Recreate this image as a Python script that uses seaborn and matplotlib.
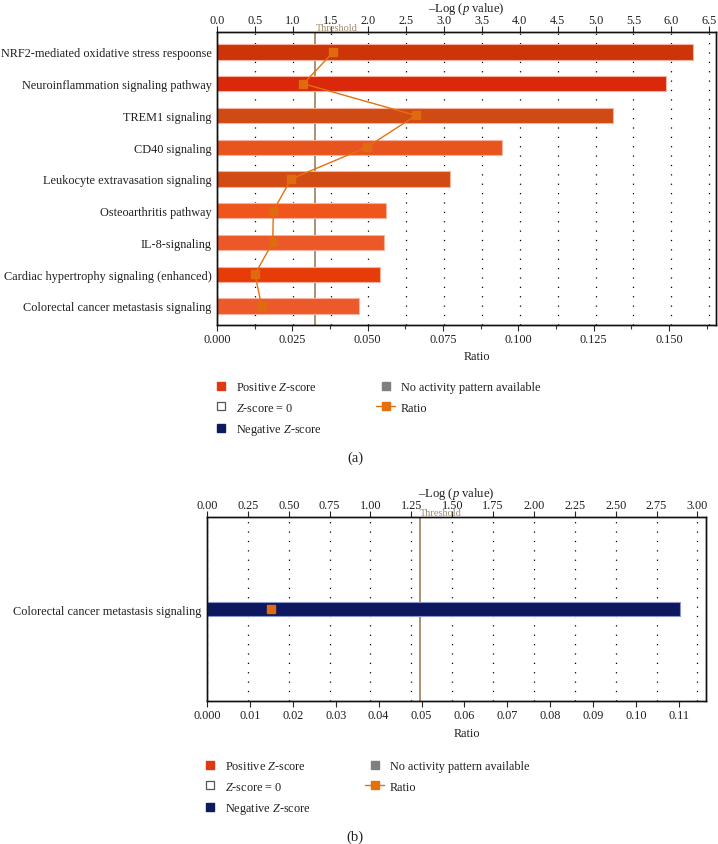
import numpy as np
import matplotlib
matplotlib.use("Agg")
import matplotlib.pyplot as plt
import matplotlib.transforms as mtransforms
import seaborn as sns
from matplotlib.lines import Line2D
from matplotlib.ticker import MultipleLocator, FixedLocator, FormatStrFormatter

sns.set_style("white")
plt.rcParams['font.family'] = ['Liberation Serif', 'DejaVu Serif']
plt.rcParams['mathtext.fontset'] = 'custom'
plt.rcParams['mathtext.rm'] = 'Liberation Serif'
plt.rcParams['mathtext.it'] = 'Liberation Serif:italic'
plt.rcParams['text.color'] = '#231f20'

# Panel (a) data
pathways_a = ['NRF2-mediated oxidative stress respoonse',
              'Neuroinflammation signaling pathway',
              'TREM1 signaling',
              'CD40 signaling',
              'Leukocyte extravasation signaling',
              'Osteoarthritis pathway',
              'IL-8-signaling',
              'Cardiac hypertrophy signaling (enhanced)',
              'Colorectal cancer metastasis signaling']
logp_a = [6.29, 5.93, 5.23, 3.77, 3.08, 2.23, 2.21, 2.15, 1.88]
ratio_a = [0.0386, 0.0287, 0.0660, 0.0497, 0.0246, 0.0187, 0.0185, 0.0126, 0.0148]
colors_a = ['#cc3508', '#d9280a', '#d04a14', '#e8541e', '#d24a14',
            '#f0561c', '#ec5828', '#e83c08', '#ec5a2c']

# Panel (b) data
pathways_b = ['Colorectal cancer metastasis signaling']
logp_b = [2.89]
ratio_b = [0.0150]
colors_b = ['#0c175e']

threshold = 1.3

ratio_ticks_a = [0.0, 0.025, 0.05, 0.075, 0.1, 0.125, 0.15]
ratio_labels_a = ['0.000', '0.025', '0.050', '0.075', '0.100', '0.125', '0.150']
ratio_ticks_b = [0.0, 0.01, 0.02, 0.03, 0.04, 0.05, 0.06, 0.07, 0.08, 0.09, 0.10, 0.11]
ratio_labels_b = ['0.000', '0.01', '0.02', '0.03', '0.04', '0.05', '0.06',
                  '0.07', '0.08', '0.09', '0.10', '0.11']

TXT = '#231f20'
FS = 8.8
RATIO_C = '#e4700e'


def draw_panel(ax, names, logp, ratio, colors, edge, log_max, log_step, log_fmt,
               ratio_max, r_ticks, r_labels, ylim, bar_w, minor=None):
    sns.barplot(x=logp, y=names, hue=names, palette=colors, legend=False,
                orient='h', width=bar_w, saturation=1, edgecolor=edge,
                linewidth=0.8, ax=ax)
    for p in ax.patches:
        p.set_zorder(2)
    ax.axvline(threshold, color='#a99171', lw=1.4, zorder=1.5)
    trans = mtransforms.blended_transform_factory(ax.transData, ax.transAxes)
    ax.annotate('Threshold', xy=(threshold, 1.0), xycoords=trans,
                xytext=(0.5, 0.3), textcoords='offset points',
                ha='left', va='bottom', fontsize=7.5, color='#a08c6c')

    # ratio line on a twin x axis
    ax2 = ax.twiny()
    ax2.plot(ratio, np.arange(len(ratio)), color=RATIO_C, lw=1.0,
             marker='s', ms=5.5, mfc='#e06a10', mec='#e06a10', zorder=3)
    ax2.set_xlim(0, ratio_max)
    ax2.xaxis.tick_bottom()
    ax2.xaxis.set_label_position('bottom')
    ax2.xaxis.set_major_locator(FixedLocator(r_ticks))
    ax2.set_xticklabels(r_labels)
    if minor is not None:
        ax2.xaxis.set_minor_locator(MultipleLocator(minor))
        ax2.tick_params(axis='x', which='minor', bottom=True, direction='out',
                        length=3, width=0.8, color='#333333')
    ax2.tick_params(axis='x', which='major', bottom=True, top=False, direction='out',
                    length=4, width=0.8, pad=2, labelsize=FS, labelcolor=TXT)
    ax2.set_xlabel('Ratio', fontsize=FS, color=TXT)
    ax2.xaxis.set_label_coords(0.52, -0.085 if minor else -0.14)

    # -log(p) axis on top
    ax.xaxis.tick_top()
    ax.xaxis.set_label_position('top')
    ax.set_xlim(0, log_max)
    ax.xaxis.set_major_locator(MultipleLocator(log_step))
    ax.xaxis.set_major_formatter(FormatStrFormatter(log_fmt))
    ax.tick_params(axis='x', top=True, bottom=False, direction='out', length=4,
                   width=0.8, pad=0.3, labelsize=FS, labelcolor=TXT)
    ax.tick_params(axis='y', length=0, pad=4, labelsize=FS, labelcolor=TXT)
    ax.set_xlabel('–Log ($p$ value)', fontsize=FS + 0.3, color=TXT, labelpad=2.5)
    ax.set_ylabel('')
    ax.set_ylim(*ylim)
    ax.grid(axis='x', color='black', linestyle=(0, (1, 6.5)), linewidth=0.9)
    ax.set_axisbelow(True)
    for a in (ax, ax2):
        for s in a.spines.values():
            s.set_color('#111111')
            s.set_linewidth(1.0)
    return ax2


fig = plt.figure(figsize=(7.18, 8.45), dpi=100)
W, H = 718.0, 845.0

ax_a = fig.add_axes([217 / W, 1 - 326 / H, 499 / W, 293 / H])
draw_panel(ax_a, pathways_a, logp_a, ratio_a, colors_a, '#f6b4a0',
           6.59, 0.5, '%.1f', 0.1656, ratio_ticks_a, ratio_labels_a,
           (8.6, -0.63), 0.48, minor=0.0125)

ax_b = fig.add_axes([207 / W, 1 - 702 / H, 499 / W, 184 / H])
draw_panel(ax_b, pathways_b, logp_b, ratio_b, colors_b, '#8c96c8',
           3.052, 0.25, '%.2f', 0.1163, ratio_ticks_b, ratio_labels_b,
           (3.07, -3.07), 0.5)


# legends
def legend_handles():
    return [
        Line2D([], [], marker='s', ls='none', ms=5.5, mfc='#dc3a12', mec='#dc3a12',
               label='Positive $Z$-score'),
        Line2D([], [], marker='s', ls='none', ms=5.5, mfc='white', mec='#555555',
               mew=0.9, label='$Z$-score = 0'),
        Line2D([], [], marker='s', ls='none', ms=5.5, mfc='#0d1a5e', mec='#0d1a5e',
               label='Negative $Z$-score'),
        Line2D([], [], marker='s', ls='none', ms=5.5, mfc='#7f7f7f', mec='#7f7f7f',
               label='No activity pattern available'),
        Line2D([], [], marker='s', ls='-', lw=1.0, color=RATIO_C, ms=5.5,
               label='Ratio'),
    ]


for x0, y0 in [(212 / W, 1 - 382 / H), (201 / W, 1 - 761 / H)]:
    fig.legend(handles=legend_handles(), ncol=2, loc='upper left',
               bbox_to_anchor=(x0, y0), frameon=False, fontsize=FS,
               handlelength=1.5, handletextpad=0.5, columnspacing=4.45,
               labelspacing=0.7, borderpad=0, borderaxespad=0)

fig.text(355 / W, 1 - 458 / H, '(a)', ha='center', va='center', fontsize=10.5)
fig.text(355 / W, 1 - 837 / H, '(b)', ha='center', va='center', fontsize=10.5)

fig.savefig('out.png', dpi=100)
